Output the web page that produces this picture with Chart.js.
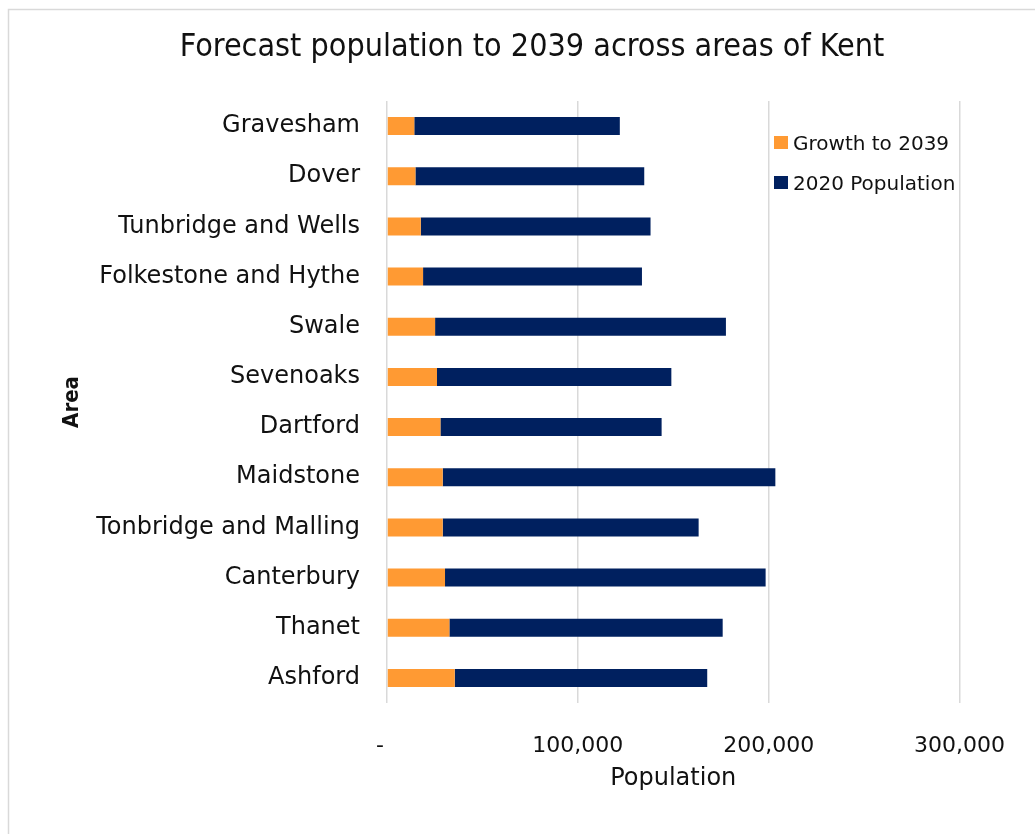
<!DOCTYPE html>
<html>
<head>
<meta charset="utf-8">
<title>Forecast population to 2039 across areas of Kent</title>
<script src="https://cdn.jsdelivr.net/npm/chart.js@4/dist/chart.umd.min.js"></script>
<style>
	body { margin: 0; background: #fff; }
	#wrap { position: relative; width: 1035px; height: 834px; }
</style>
</head>
<body>
<div id="wrap"><canvas id="myChart"></canvas></div>
<script>
var chartTitle = "Forecast population to 2039 across areas of Kent";
var areas = ["Gravesham", "Dover", "Tunbridge and Wells", "Folkestone and Hythe", "Swale", "Sevenoaks", "Dartford", "Maidstone", "Tonbridge and Malling", "Canterbury", "Thanet", "Ashford"];
var growthTo2039 = [14300, 14900, 17700, 18900, 25200, 26200, 28000, 29200, 29200, 30400, 32700, 35500];
var population2020 = [107700, 119900, 120400, 114700, 152400, 122800, 115900, 174300, 134100, 168000, 143200, 132300];
var xTickValues = [0, 100000, 200000, 300000];
var xTickLabels = ["-  ", "100,000", "200,000", "300,000"];

var GRID = "#d9d9d9";
var TEXT = "#111";

// white page, the chart frame and the title
var framePlugin = {
	id : "frame",
	beforeDraw : function(chart) {
		var ctx = chart.ctx;
		ctx.save();
		ctx.fillStyle = "#fff";
		ctx.fillRect(0, 0, chart.width, chart.height);
		ctx.strokeStyle = GRID;
		ctx.lineWidth = 1.5;
		ctx.strokeRect(8.5, 9.5, 2000, 2000);
		ctx.restore();
	},
	afterDraw : function(chart) {
		var ctx = chart.ctx;
		ctx.save();
		ctx.fillStyle = TEXT;
		ctx.font = "32px 'DejaVu Sans Condensed', 'DejaVu Sans'";
		ctx.textAlign = "center";
		ctx.textBaseline = "middle";
		ctx.fillText(chartTitle, 532, 48);
		ctx.restore();
	}
};

// legend sits inside the plot, right of the 200,000 line
var legendPlugin = {
	id : "insideLegend",
	afterDraw : function(chart) {
		var ctx = chart.ctx;
		ctx.save();
		ctx.font = "20px 'DejaVu Sans'";
		ctx.textAlign = "left";
		ctx.textBaseline = "alphabetic";
		chart.data.datasets.forEach(function(ds, i) {
			var y = 136 + i * 40;
			ctx.fillStyle = ds.backgroundColor;
			ctx.fillRect(774, y, 14, 13);
			ctx.fillStyle = TEXT;
			ctx.fillText(ds.label, 793, y + 14);
		});
		ctx.restore();
	}
};

Chart.defaults.font.family = "'DejaVu Sans'";
Chart.defaults.color = TEXT;

var ctx = document.getElementById("myChart");

var data = {
	labels : areas,
	datasets : [
		{
			label : "Growth to 2039",
			data : growthTo2039,
			backgroundColor : "#ff9a33",
			borderWidth : 0,
			categoryPercentage : 1,
			barPercentage : 0.36
		},
		{
			label : "2020 Population",
			data : population2020,
			backgroundColor : "#00205f",
			borderWidth : 0,
			categoryPercentage : 1,
			barPercentage : 0.36
		}
	]
};

var myChart = new Chart(ctx, {
	type : "bar",
	data : data,
	plugins : [framePlugin, legendPlugin],
	options : {
		indexAxis : "y",
		responsive : true,
		maintainAspectRatio : false,
		animation : false,
		layout : { padding : { top : 101, right : 74, bottom : 0, left : 0 } },
		plugins : {
			legend : { display : false },
			title : { display : false },
			tooltip : { enabled : false }
		},
		scales : {
			x : {
				stacked : true,
				min : 0,
				max : 300000,
				afterBuildTicks : function(scale) {
					scale.ticks = xTickValues.map(function(v) { return { value : v }; });
				},
				afterFit : function(scale) { scale.height = 131; },
				grid : { color : GRID, lineWidth : 1.5, drawTicks : false, tickLength : 0 },
				border : { display : false },
				ticks : {
					font : { size : 22 },
					padding : 30,
					maxRotation : 0,
					callback : function(value, index) { return xTickLabels[index]; }
				},
				title : {
					display : true,
					text : "Population",
					font : { size : 24 },
					padding : { top : 0, bottom : 41 }
				}
			},
			y : {
				stacked : true,
				afterFit : function(scale) { scale.width = 387; },
				grid : { display : false, drawTicks : false, tickLength : 0 },
				border : { display : false },
				ticks : { font : { size : 24 }, padding : 27 },
				title : {
					display : true,
					text : "Area",
					font : { family : "'DejaVu Sans Condensed', 'DejaVu Sans'", size : 22, weight : "bold" },
					padding : { top : 59, bottom : 0 }
				}
			}
		}
	}
});
</script>
</body>
</html>
